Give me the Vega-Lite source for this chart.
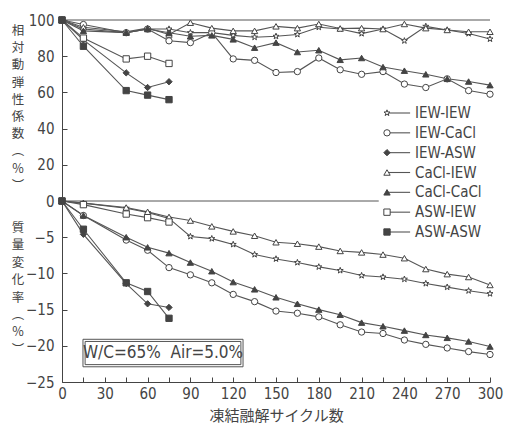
{
"$schema": "https://vega.github.io/schema/vega-lite/v6.json",
"width": 428, "height": 362,
"autosize": {"type": "none"},
"padding": {"left": 62, "top": 20, "right": 15, "bottom": 41},
"background": "white",
"config": {"view": {"stroke": null}, "font": "DejaVu Sans Condensed, Liberation Sans, sans-serif",
  "axis": {"grid": false, "labelOverlap": false, "domainColor": "#444", "tickColor": "#444", "labelColor": "#444", "titleColor": "#444", "labelFont": "DejaVu Sans Condensed, Liberation Sans, sans-serif", "labelFontSize": 15, "titleFontWeight": "normal"}},
"datasets": {"d": [
{"s":"IEW-IEW","p":"E","c":0,"v":100},{"s":"IEW-IEW","p":"E","c":15,"v":95},{"s":"IEW-IEW","p":"E","c":45,"v":93},{"s":"IEW-IEW","p":"E","c":60,"v":95},{"s":"IEW-IEW","p":"E","c":75,"v":95},{"s":"IEW-IEW","p":"E","c":90,"v":93},{"s":"IEW-IEW","p":"E","c":105,"v":93},{"s":"IEW-IEW","p":"E","c":120,"v":91.5},{"s":"IEW-IEW","p":"E","c":135,"v":90.5},{"s":"IEW-IEW","p":"E","c":150,"v":91},{"s":"IEW-IEW","p":"E","c":165,"v":92},{"s":"IEW-IEW","p":"E","c":180,"v":96},{"s":"IEW-IEW","p":"E","c":195,"v":95},{"s":"IEW-IEW","p":"E","c":210,"v":92.5},{"s":"IEW-IEW","p":"E","c":225,"v":95},{"s":"IEW-IEW","p":"E","c":240,"v":88.5},{"s":"IEW-IEW","p":"E","c":255,"v":96.5},{"s":"IEW-IEW","p":"E","c":270,"v":94.5},{"s":"IEW-IEW","p":"E","c":285,"v":92.5},{"s":"IEW-IEW","p":"E","c":300,"v":89.5},
{"s":"IEW-CaCl","p":"E","c":0,"v":100},{"s":"IEW-CaCl","p":"E","c":15,"v":97.5},{"s":"IEW-CaCl","p":"E","c":45,"v":93},{"s":"IEW-CaCl","p":"E","c":60,"v":95},{"s":"IEW-CaCl","p":"E","c":75,"v":88.5},{"s":"IEW-CaCl","p":"E","c":90,"v":87.5},{"s":"IEW-CaCl","p":"E","c":105,"v":93},{"s":"IEW-CaCl","p":"E","c":120,"v":78.5},{"s":"IEW-CaCl","p":"E","c":135,"v":77.7},{"s":"IEW-CaCl","p":"E","c":150,"v":71},{"s":"IEW-CaCl","p":"E","c":165,"v":71.5},{"s":"IEW-CaCl","p":"E","c":180,"v":79},{"s":"IEW-CaCl","p":"E","c":195,"v":72.5},{"s":"IEW-CaCl","p":"E","c":210,"v":70},{"s":"IEW-CaCl","p":"E","c":225,"v":71.5},{"s":"IEW-CaCl","p":"E","c":240,"v":64.6},{"s":"IEW-CaCl","p":"E","c":255,"v":62.7},{"s":"IEW-CaCl","p":"E","c":270,"v":67.5},{"s":"IEW-CaCl","p":"E","c":285,"v":61},{"s":"IEW-CaCl","p":"E","c":300,"v":59},
{"s":"IEW-ASW","p":"E","c":0,"v":100},{"s":"IEW-ASW","p":"E","c":15,"v":89},{"s":"IEW-ASW","p":"E","c":45,"v":70.8},{"s":"IEW-ASW","p":"E","c":60,"v":62.7},{"s":"IEW-ASW","p":"E","c":75,"v":65.9},
{"s":"CaCl-IEW","p":"E","c":0,"v":100},{"s":"CaCl-IEW","p":"E","c":15,"v":96},{"s":"CaCl-IEW","p":"E","c":45,"v":93.5},{"s":"CaCl-IEW","p":"E","c":60,"v":95.5},{"s":"CaCl-IEW","p":"E","c":75,"v":92},{"s":"CaCl-IEW","p":"E","c":90,"v":98.5},{"s":"CaCl-IEW","p":"E","c":105,"v":95.5},{"s":"CaCl-IEW","p":"E","c":120,"v":94},{"s":"CaCl-IEW","p":"E","c":135,"v":94},{"s":"CaCl-IEW","p":"E","c":150,"v":96.5},{"s":"CaCl-IEW","p":"E","c":165,"v":95.5},{"s":"CaCl-IEW","p":"E","c":180,"v":97.8},{"s":"CaCl-IEW","p":"E","c":195,"v":95.3},{"s":"CaCl-IEW","p":"E","c":210,"v":95.5},{"s":"CaCl-IEW","p":"E","c":225,"v":95},{"s":"CaCl-IEW","p":"E","c":240,"v":97.8},{"s":"CaCl-IEW","p":"E","c":255,"v":95.5},{"s":"CaCl-IEW","p":"E","c":270,"v":94.5},{"s":"CaCl-IEW","p":"E","c":285,"v":93.5},{"s":"CaCl-IEW","p":"E","c":300,"v":93.5},
{"s":"CaCl-CaCl","p":"E","c":0,"v":100},{"s":"CaCl-CaCl","p":"E","c":15,"v":94},{"s":"CaCl-CaCl","p":"E","c":45,"v":93},{"s":"CaCl-CaCl","p":"E","c":60,"v":95},{"s":"CaCl-CaCl","p":"E","c":75,"v":93},{"s":"CaCl-CaCl","p":"E","c":90,"v":91},{"s":"CaCl-CaCl","p":"E","c":105,"v":91.5},{"s":"CaCl-CaCl","p":"E","c":120,"v":89.3},{"s":"CaCl-CaCl","p":"E","c":135,"v":84.7},{"s":"CaCl-CaCl","p":"E","c":150,"v":87.5},{"s":"CaCl-CaCl","p":"E","c":165,"v":82.3},{"s":"CaCl-CaCl","p":"E","c":180,"v":83.3},{"s":"CaCl-CaCl","p":"E","c":195,"v":78},{"s":"CaCl-CaCl","p":"E","c":210,"v":79},{"s":"CaCl-CaCl","p":"E","c":225,"v":74},{"s":"CaCl-CaCl","p":"E","c":240,"v":72},{"s":"CaCl-CaCl","p":"E","c":255,"v":70},{"s":"CaCl-CaCl","p":"E","c":270,"v":67.5},{"s":"CaCl-CaCl","p":"E","c":285,"v":66},{"s":"CaCl-CaCl","p":"E","c":300,"v":64},
{"s":"ASW-IEW","p":"E","c":0,"v":100},{"s":"ASW-IEW","p":"E","c":15,"v":90},{"s":"ASW-IEW","p":"E","c":45,"v":78.5},{"s":"ASW-IEW","p":"E","c":60,"v":80},{"s":"ASW-IEW","p":"E","c":75,"v":76},
{"s":"ASW-ASW","p":"E","c":0,"v":100},{"s":"ASW-ASW","p":"E","c":15,"v":85.5},{"s":"ASW-ASW","p":"E","c":45,"v":61},{"s":"ASW-ASW","p":"E","c":60,"v":58.5},{"s":"ASW-ASW","p":"E","c":75,"v":56},
{"s":"IEW-IEW","p":"M","c":0,"v":0},{"s":"IEW-IEW","p":"M","c":15,"v":-0.3},{"s":"IEW-IEW","p":"M","c":45,"v":-1.0},{"s":"IEW-IEW","p":"M","c":60,"v":-1.6},{"s":"IEW-IEW","p":"M","c":75,"v":-2.4},{"s":"IEW-IEW","p":"M","c":90,"v":-4.9},{"s":"IEW-IEW","p":"M","c":105,"v":-5.2},{"s":"IEW-IEW","p":"M","c":120,"v":-6.0},{"s":"IEW-IEW","p":"M","c":135,"v":-7.4},{"s":"IEW-IEW","p":"M","c":150,"v":-8.0},{"s":"IEW-IEW","p":"M","c":165,"v":-8.5},{"s":"IEW-IEW","p":"M","c":180,"v":-9.1},{"s":"IEW-IEW","p":"M","c":195,"v":-9.6},{"s":"IEW-IEW","p":"M","c":210,"v":-10.3},{"s":"IEW-IEW","p":"M","c":225,"v":-10.5},{"s":"IEW-IEW","p":"M","c":240,"v":-10.8},{"s":"IEW-IEW","p":"M","c":255,"v":-11.4},{"s":"IEW-IEW","p":"M","c":270,"v":-11.9},{"s":"IEW-IEW","p":"M","c":285,"v":-12.4},{"s":"IEW-IEW","p":"M","c":300,"v":-12.8},
{"s":"IEW-CaCl","p":"M","c":0,"v":0},{"s":"IEW-CaCl","p":"M","c":15,"v":-2},{"s":"IEW-CaCl","p":"M","c":45,"v":-5.4},{"s":"IEW-CaCl","p":"M","c":60,"v":-6.8},{"s":"IEW-CaCl","p":"M","c":75,"v":-9.2},{"s":"IEW-CaCl","p":"M","c":90,"v":-10.2},{"s":"IEW-CaCl","p":"M","c":105,"v":-11.3},{"s":"IEW-CaCl","p":"M","c":120,"v":-12.9},{"s":"IEW-CaCl","p":"M","c":135,"v":-13.9},{"s":"IEW-CaCl","p":"M","c":150,"v":-15.2},{"s":"IEW-CaCl","p":"M","c":165,"v":-15.5},{"s":"IEW-CaCl","p":"M","c":180,"v":-16.0},{"s":"IEW-CaCl","p":"M","c":195,"v":-17.1},{"s":"IEW-CaCl","p":"M","c":210,"v":-18.1},{"s":"IEW-CaCl","p":"M","c":225,"v":-18.3},{"s":"IEW-CaCl","p":"M","c":240,"v":-19.2},{"s":"IEW-CaCl","p":"M","c":255,"v":-19.8},{"s":"IEW-CaCl","p":"M","c":270,"v":-20.3},{"s":"IEW-CaCl","p":"M","c":285,"v":-20.8},{"s":"IEW-CaCl","p":"M","c":300,"v":-21.2},
{"s":"IEW-ASW","p":"M","c":0,"v":0},{"s":"IEW-ASW","p":"M","c":15,"v":-4.6},{"s":"IEW-ASW","p":"M","c":45,"v":-11.4},{"s":"IEW-ASW","p":"M","c":60,"v":-14.2},{"s":"IEW-ASW","p":"M","c":75,"v":-14.7},
{"s":"CaCl-IEW","p":"M","c":0,"v":0},{"s":"CaCl-IEW","p":"M","c":15,"v":-0.3},{"s":"CaCl-IEW","p":"M","c":45,"v":-0.9},{"s":"CaCl-IEW","p":"M","c":60,"v":-1.5},{"s":"CaCl-IEW","p":"M","c":75,"v":-2.2},{"s":"CaCl-IEW","p":"M","c":90,"v":-2.7},{"s":"CaCl-IEW","p":"M","c":105,"v":-3.5},{"s":"CaCl-IEW","p":"M","c":120,"v":-4.2},{"s":"CaCl-IEW","p":"M","c":135,"v":-4.8},{"s":"CaCl-IEW","p":"M","c":150,"v":-5.7},{"s":"CaCl-IEW","p":"M","c":165,"v":-5.9},{"s":"CaCl-IEW","p":"M","c":180,"v":-6.3},{"s":"CaCl-IEW","p":"M","c":195,"v":-6.9},{"s":"CaCl-IEW","p":"M","c":210,"v":-7.1},{"s":"CaCl-IEW","p":"M","c":225,"v":-7.4},{"s":"CaCl-IEW","p":"M","c":240,"v":-7.9},{"s":"CaCl-IEW","p":"M","c":255,"v":-9.4},{"s":"CaCl-IEW","p":"M","c":270,"v":-10.1},{"s":"CaCl-IEW","p":"M","c":285,"v":-10.5},{"s":"CaCl-IEW","p":"M","c":300,"v":-11.6},
{"s":"CaCl-CaCl","p":"M","c":0,"v":0},{"s":"CaCl-CaCl","p":"M","c":15,"v":-2},{"s":"CaCl-CaCl","p":"M","c":45,"v":-5.0},{"s":"CaCl-CaCl","p":"M","c":60,"v":-6.4},{"s":"CaCl-CaCl","p":"M","c":75,"v":-7.2},{"s":"CaCl-CaCl","p":"M","c":90,"v":-8.5},{"s":"CaCl-CaCl","p":"M","c":105,"v":-9.7},{"s":"CaCl-CaCl","p":"M","c":120,"v":-11.2},{"s":"CaCl-CaCl","p":"M","c":135,"v":-12.2},{"s":"CaCl-CaCl","p":"M","c":150,"v":-13.3},{"s":"CaCl-CaCl","p":"M","c":165,"v":-14.2},{"s":"CaCl-CaCl","p":"M","c":180,"v":-15.0},{"s":"CaCl-CaCl","p":"M","c":195,"v":-15.7},{"s":"CaCl-CaCl","p":"M","c":210,"v":-16.8},{"s":"CaCl-CaCl","p":"M","c":225,"v":-17.3},{"s":"CaCl-CaCl","p":"M","c":240,"v":-17.9},{"s":"CaCl-CaCl","p":"M","c":255,"v":-18.5},{"s":"CaCl-CaCl","p":"M","c":270,"v":-18.9},{"s":"CaCl-CaCl","p":"M","c":285,"v":-19.4},{"s":"CaCl-CaCl","p":"M","c":300,"v":-20.1},
{"s":"ASW-IEW","p":"M","c":0,"v":0},{"s":"ASW-IEW","p":"M","c":15,"v":-0.5},{"s":"ASW-IEW","p":"M","c":45,"v":-1.8},{"s":"ASW-IEW","p":"M","c":60,"v":-2.3},{"s":"ASW-IEW","p":"M","c":75,"v":-2.9},
{"s":"ASW-ASW","p":"M","c":0,"v":0},{"s":"ASW-ASW","p":"M","c":15,"v":-3.9},{"s":"ASW-ASW","p":"M","c":45,"v":-11.3},{"s":"ASW-ASW","p":"M","c":60,"v":-12.5},{"s":"ASW-ASW","p":"M","c":75,"v":-16.2}
],
"one": [{"note": "annotation"}]},
"data": {"name": "d"},
"layer": [
 {"layer": [
  {"mark": {"type": "line", "color": "#555", "strokeWidth": 1.1},
   "encoding": {
    "x": {"field": "c", "type": "quantitative",
      "scale": {"domain": [0, 300], "nice": false, "zero": false},
      "axis": {"title": "凍結融解サイクル数", "values": [0,15,30,45,60,75,90,105,120,135,150,165,180,195,210,225,240,255,270,285,300], "tickCount": 40,
        "labelExpr": "datum.value % 30 === 0 ? datum.label : ''", "labelOverlap": false, "labelFlush": false,
        "tickSize": -5, "labelPadding": 9, "titleFont": "Noto Sans CJK JP", "titleFontSize": 15, "titleBaseline": "middle", "titleY": 33}},
    "y": {"field": "v", "type": "quantitative",
      "scale": {"domain": [-25, 0, 100], "range": [362, 181, 0], "nice": false, "zero": false},
      "axis": {"values": [-25,-20,-15,-10,-5,0,20,40,60,80,100], "tickCount": 40, "labelOverlap": false, "labelFlush": false,
        "tickSize": -5, "labelPadding": 13, "title": null}},
    "detail": [{"field": "s"}, {"field": "p"}]}},
  {"data": {"name": "one"}, "mark": {"type": "rule", "color": "#555", "strokeWidth": 1}, "encoding": {"y": {"datum": 100}}},
  {"data": {"name": "one"}, "mark": {"type": "rule", "color": "#555", "strokeWidth": 1}, "encoding": {"y": {"datum": 0}, "x": {"datum": 0}, "x2": {"datum": 222}}},
  {"mark": {"type": "point", "size": 40, "stroke": "#444", "strokeWidth": 1, "opacity": 1},
   "encoding": {
    "x": {"field": "c", "type": "quantitative"},
    "y": {"field": "v", "type": "quantitative"},
    "shape": {"field": "s", "type": "nominal",
      "scale": {"domain": ["IEW-IEW","IEW-CaCl","IEW-ASW","CaCl-IEW","CaCl-CaCl","ASW-IEW","ASW-ASW"],
        "range": ["M0,-1 L0.235,-0.324 L0.951,-0.309 L0.38,0.124 L0.588,0.809 L0,0.4 L-0.588,0.809 L-0.38,0.124 L-0.951,-0.309 L-0.235,-0.324 Z","circle","diamond","triangle-up","triangle-up","square","square"]},
      "legend": null},
    "fill": {"field": "s", "type": "nominal",
      "scale": {"domain": ["IEW-IEW","IEW-CaCl","IEW-ASW","CaCl-IEW","CaCl-CaCl","ASW-IEW","ASW-ASW"],
        "range": ["#ffffff","#ffffff","#444444","#ffffff","#444444","#ffffff","#444444"]},
      "legend": null}}},
  {"data": {"name": "one"}, "mark": {"type": "rect", "fillOpacity": 0, "stroke": "#555", "strokeWidth": 1},
   "encoding": {"x": {"datum": 14.7}, "x2": {"datum": 126.9}, "y": {"datum": -19.1}, "y2": {"datum": -22.9}}},
  {"data": {"name": "one"}, "mark": {"type": "rect", "fillOpacity": 0, "stroke": "#555", "strokeWidth": 1},
   "encoding": {"x": {"datum": 16.2}, "x2": {"datum": 125.4}, "y": {"datum": -19.4}, "y2": {"datum": -22.6}}},
  {"data": {"name": "one"}, "mark": {"type": "text", "text": "W/C=65%\u00a0\u00a0Air=5.0%", "font": "DejaVu Sans Condensed, Liberation Sans, sans-serif", "fontSize": 17, "color": "#444", "align": "center", "baseline": "middle"},
   "encoding": {"x": {"datum": 70.8}, "y": {"datum": -21}}},
  {"data": {"name": "one"}, "mark": {"type": "text", "text": ["相","対","動","弾","性","係","数","︵","%","︶"], "font": "Noto Sans CJK JP", "fontSize": 12.5, "lineHeight": 17.2, "color": "#444", "align": "center", "baseline": "top"},
   "encoding": {"x": {"datum": -30.8}, "y": {"datum": 97.2}}},
  {"data": {"name": "one"}, "mark": {"type": "text", "text": ["質","量","変","化","率","︵","%","︶"], "font": "Noto Sans CJK JP", "fontSize": 12.5, "lineHeight": 17.4, "color": "#444", "align": "center", "baseline": "top"},
   "encoding": {"x": {"datum": -30.8}, "y": {"datum": -2.9}}}
 ]},
 {"transform": [{"filter": "datum.c === 0 && datum.p === 'E'"}],
  "encoding": {"y": {"field": "s", "type": "nominal",
     "scale": {"type": "point", "domain": ["IEW-IEW","IEW-CaCl","IEW-ASW","CaCl-IEW","CaCl-CaCl","ASW-IEW","ASW-ASW"], "range": [93, 212], "padding": 0},
     "axis": null}},
  "layer": [
   {"mark": {"type": "rule", "color": "#555", "strokeWidth": 1.1}, "encoding": {"x": {"datum": 227.8}, "x2": {"datum": 244}}},
   {"mark": {"type": "point", "size": 40, "stroke": "#444", "strokeWidth": 1, "opacity": 1},
    "encoding": {"x": {"datum": 227.8},
      "shape": {"field": "s", "type": "nominal", "legend": null},
      "fill": {"field": "s", "type": "nominal", "legend": null}}},
   {"mark": {"type": "text", "font": "DejaVu Sans Condensed, Liberation Sans, sans-serif", "fontSize": 15, "color": "#444", "align": "left", "baseline": "middle"},
    "encoding": {"x": {"datum": 247.4}, "text": {"field": "s"}}}
  ]}
],
"resolve": {"scale": {"y": "independent"}}
}
